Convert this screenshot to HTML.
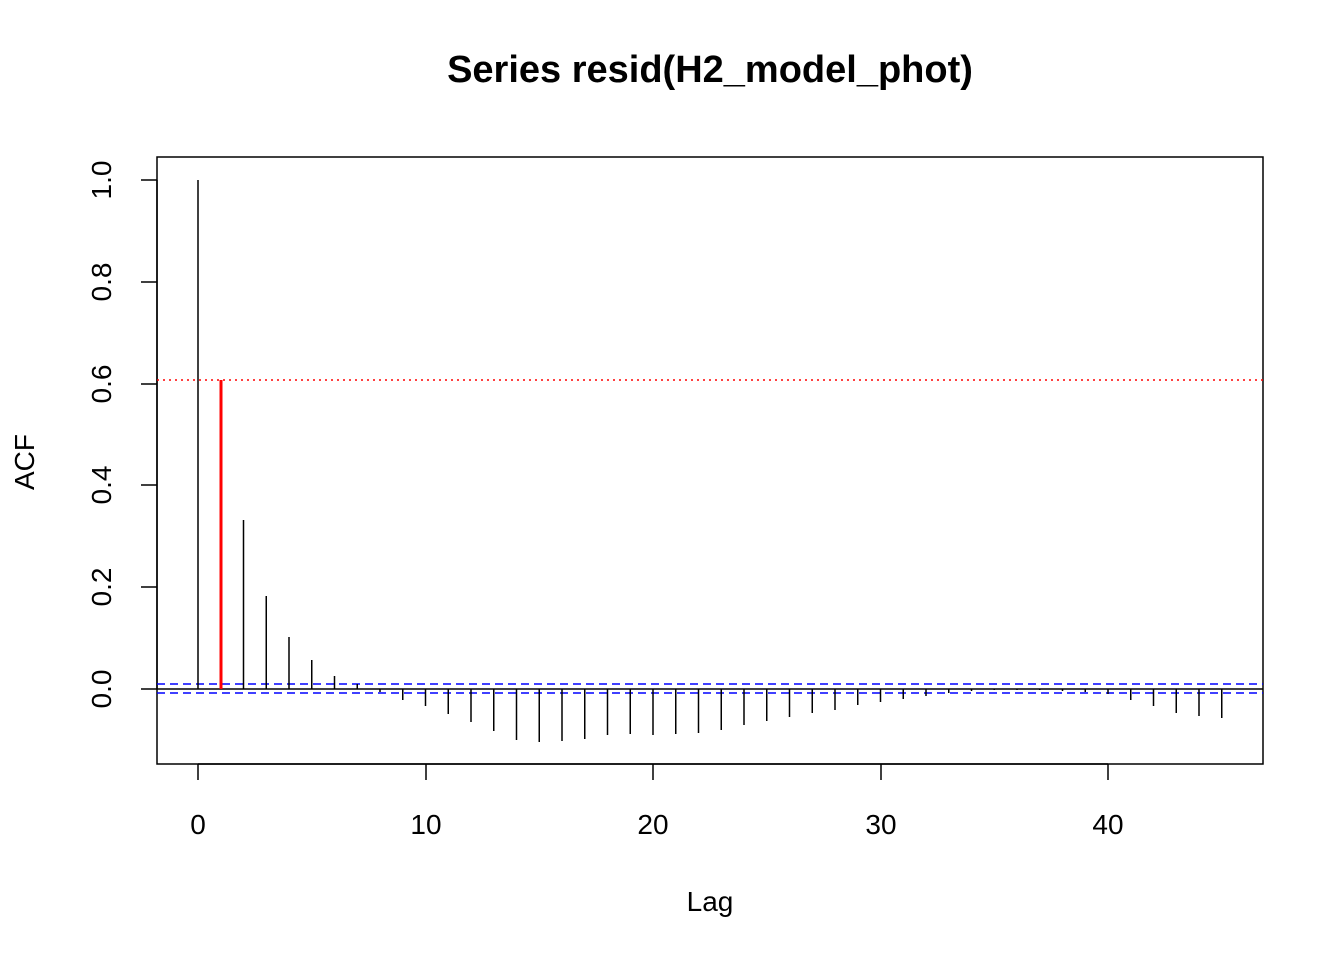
<!DOCTYPE html>
<html><head><meta charset="utf-8"><style>html,body{margin:0;padding:0;background:#fff}</style></head>
<body>
<svg width="1344" height="960" viewBox="0 0 1344 960" xmlns="http://www.w3.org/2000/svg" font-family="Liberation Sans, Arial, sans-serif">
<rect width="1344" height="960" fill="#fff"/>
<text x="710" y="82" text-anchor="middle" font-size="38" font-weight="bold">Series resid(H2_model_phot)</text>
<rect x="157" y="157" width="1106" height="607" fill="none" stroke="#000" stroke-width="1.5"/>
<g stroke="#000" stroke-width="1.5">
<line x1="198" y1="764" x2="1108" y2="764"/>
<line x1="198" y1="764" x2="198" y2="780"/>
<line x1="426" y1="764" x2="426" y2="780"/>
<line x1="653" y1="764" x2="653" y2="780"/>
<line x1="881" y1="764" x2="881" y2="780"/>
<line x1="1108" y1="764" x2="1108" y2="780"/>
</g>
<g font-size="28" text-anchor="middle">
<text x="198" y="834">0</text><text x="426" y="834">10</text><text x="653" y="834">20</text><text x="881" y="834">30</text><text x="1108" y="834">40</text>
<text x="710" y="911">Lag</text>
</g>
<g stroke="#000" stroke-width="1.5">
<line x1="157" y1="180" x2="157" y2="689"/>
<line x1="141" y1="180" x2="157" y2="180"/>
<line x1="141" y1="282" x2="157" y2="282"/>
<line x1="141" y1="384" x2="157" y2="384"/>
<line x1="141" y1="485" x2="157" y2="485"/>
<line x1="141" y1="587" x2="157" y2="587"/>
<line x1="141" y1="689" x2="157" y2="689"/>
</g>
<g font-size="28" text-anchor="middle">
<text transform="translate(111,180) rotate(-90)">1.0</text>
<text transform="translate(111,282) rotate(-90)">0.8</text>
<text transform="translate(111,384) rotate(-90)">0.6</text>
<text transform="translate(111,485) rotate(-90)">0.4</text>
<text transform="translate(111,587) rotate(-90)">0.2</text>
<text transform="translate(111,689) rotate(-90)">0.0</text>
<text transform="translate(34,462) rotate(-90)">ACF</text>
</g>
<line x1="157" y1="689" x2="1263" y2="689" stroke="#000" stroke-width="1.5"/>
<line x1="157" y1="380" x2="1263" y2="380" stroke="#f00" stroke-width="1.5" stroke-dasharray="2,4"/>
<line x1="157" y1="684" x2="1263" y2="684" stroke="#00f" stroke-width="1.5" stroke-dasharray="8,5"/>
<line x1="157" y1="693" x2="1263" y2="693" stroke="#00f" stroke-width="1.5" stroke-dasharray="8,5"/>
<g stroke="#000" stroke-width="1.5">
<line x1="198" y1="689" x2="198" y2="180"/>
<line x1="243.5" y1="689" x2="243.5" y2="520"/>
<line x1="266.25" y1="689" x2="266.25" y2="596"/>
<line x1="289" y1="689" x2="289" y2="637"/>
<line x1="311.75" y1="689" x2="311.75" y2="660"/>
<line x1="334.5" y1="689" x2="334.5" y2="676"/>
<line x1="357.25" y1="689" x2="357.25" y2="684"/>
<line x1="380" y1="689" x2="380" y2="692"/>
<line x1="402.75" y1="689" x2="402.75" y2="700"/>
<line x1="425.5" y1="689" x2="425.5" y2="706"/>
<line x1="448.25" y1="689" x2="448.25" y2="714"/>
<line x1="471" y1="689" x2="471" y2="722"/>
<line x1="493.75" y1="689" x2="493.75" y2="731"/>
<line x1="516.5" y1="689" x2="516.5" y2="740"/>
<line x1="539.25" y1="689" x2="539.25" y2="742"/>
<line x1="562" y1="689" x2="562" y2="741"/>
<line x1="584.75" y1="689" x2="584.75" y2="739"/>
<line x1="607.5" y1="689" x2="607.5" y2="735"/>
<line x1="630.25" y1="689" x2="630.25" y2="734"/>
<line x1="653" y1="689" x2="653" y2="735"/>
<line x1="675.75" y1="689" x2="675.75" y2="734"/>
<line x1="698.5" y1="689" x2="698.5" y2="733"/>
<line x1="721.25" y1="689" x2="721.25" y2="730"/>
<line x1="744" y1="689" x2="744" y2="725"/>
<line x1="766.75" y1="689" x2="766.75" y2="721"/>
<line x1="789.5" y1="689" x2="789.5" y2="717"/>
<line x1="812.25" y1="689" x2="812.25" y2="713"/>
<line x1="835" y1="689" x2="835" y2="710"/>
<line x1="857.75" y1="689" x2="857.75" y2="705"/>
<line x1="880.5" y1="689" x2="880.5" y2="702"/>
<line x1="903.25" y1="689" x2="903.25" y2="699"/>
<line x1="926" y1="689" x2="926" y2="696"/>
<line x1="948.75" y1="689" x2="948.75" y2="693"/>
<line x1="971.5" y1="689" x2="971.5" y2="691"/>
<line x1="994.25" y1="689" x2="994.25" y2="690"/>
<line x1="1017" y1="689" x2="1017" y2="690"/>
<line x1="1039.75" y1="689" x2="1039.75" y2="690"/>
<line x1="1062.5" y1="689" x2="1062.5" y2="691"/>
<line x1="1085.25" y1="689" x2="1085.25" y2="692"/>
<line x1="1108" y1="689" x2="1108" y2="694"/>
<line x1="1130.75" y1="689" x2="1130.75" y2="700"/>
<line x1="1153.5" y1="689" x2="1153.5" y2="706"/>
<line x1="1176.25" y1="689" x2="1176.25" y2="713"/>
<line x1="1199" y1="689" x2="1199" y2="716"/>
<line x1="1221.75" y1="689" x2="1221.75" y2="718"/>
</g>
<line x1="221" y1="689" x2="221" y2="380" stroke="#f00" stroke-width="3"/>
</svg>
</body></html>
